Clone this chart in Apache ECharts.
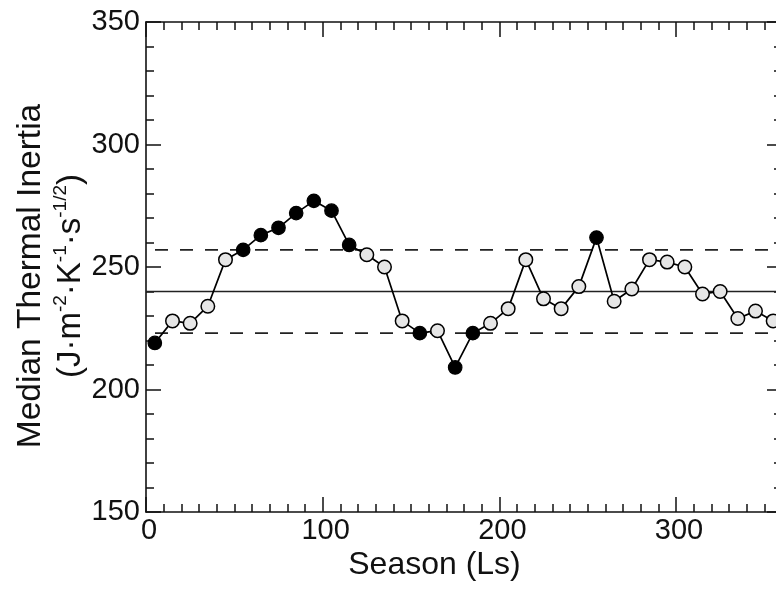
<!DOCTYPE html>
<html>
<head>
<meta charset="utf-8">
<script src="https://cdn.jsdelivr.net/npm/echarts@6/dist/echarts.min.js"></script>
<style>
  html, body { margin: 0; padding: 0; background: #fff; }
  #chart { width: 776px; height: 589px; }
</style>
</head>
<body>
<div id="chart"></div>
<script>
// Season (solar longitude Ls, degrees) of each bin
const seasonLs = [5, 15, 25, 35, 45, 55, 65, 75, 85, 95, 105, 115, 125, 135, 145, 155, 165, 175,
                  185, 195, 205, 215, 225, 235, 245, 255, 265, 275, 285, 295, 305, 315, 325, 335, 345, 355];
// Median thermal inertia per bin (J m^-2 K^-1 s^-1/2)
const medianTI = [219, 228, 227, 234, 253, 257, 263, 266, 272, 277, 273, 259, 255, 250, 228, 223, 224, 209,
                  223, 227, 233, 253, 237, 233, 242, 262, 236, 241, 253, 252, 250, 239, 240, 229, 232, 228];
// 1 = bin lies outside the variability band (filled marker)
const outsideBand = [1, 0, 0, 0, 0, 1, 1, 1, 1, 1, 1, 1, 0, 0, 0, 1, 0, 1,
                     1, 0, 0, 0, 0, 0, 0, 1, 0, 0, 0, 0, 0, 0, 0, 0, 0, 0];
// Annual median and band limits
const annualMedian = 240;
const bandUpper = 257;
const bandLower = 223;
// Axis ranges
const xRange = [0, 360];
const yRange = [150, 350];
const xLabels = [0, 100, 200, 300];

const FONT = '"Liberation Sans", Arial, Helvetica, sans-serif';
const INK = '#111';

const chart = echarts.init(document.getElementById('chart'), null, { renderer: 'canvas' });

const points = seasonLs.map((ls, i) => ({
  value: [ls, medianTI[i]],
  itemStyle: outsideBand[i]
    ? { color: '#000', borderColor: '#000', borderWidth: 1.2 }
    : { color: '#e6e6e6', borderColor: '#000', borderWidth: 1.5 }
}));

function hLine(y, dashed) {
  return {
    type: 'line',
    data: [[xRange[0], y], [xRange[1], y]],
    symbol: 'none',
    silent: true,
    z: 1,
    lineStyle: dashed
      ? { color: '#222', width: 1.8, type: [13, 12], dashOffset: 16 }
      : { color: '#222', width: 1.7 }
  };
}

function xAx(pos, interval, tickLen, withLabels, showLine) {
  return {
    type: 'value', position: pos, min: xRange[0], max: xRange[1], interval: interval,
    axisLine: { show: showLine, onZero: false, lineStyle: { color: INK, width: 1.6 } },
    axisTick: { show: true, inside: true, length: tickLen, lineStyle: { color: INK, width: 1.5 } },
    axisLabel: withLabels ? {
      show: true, margin: 4, fontFamily: FONT, fontSize: 29, color: INK,
      padding: [0, 0, 0, 6],
      formatter: v => (xLabels.indexOf(v) >= 0 ? String(v) : '')
    } : { show: false },
    splitLine: { show: false }
  };
}

function yAx(pos, withLabels) {
  const ax = {
    type: 'value', position: pos, min: yRange[0], max: yRange[1], interval: 50,
    axisLine: { show: true, onZero: false, lineStyle: { color: INK, width: 1.6 } },
    axisTick: { show: true, inside: true, length: 15, lineStyle: { color: INK, width: 1.5 } },
    minorTick: { show: true, splitNumber: 5, length: 8, lineStyle: { color: INK, width: 1.5 } },
    axisLabel: withLabels ? { show: true, margin: 6, fontFamily: FONT, fontSize: 29, color: INK } : { show: false },
    splitLine: { show: false }
  };
  if (withLabels) {
    Object.assign(ax, {
      name: '{a|Median Thermal Inertia}\n{b|(J·m}{s|-2}{b|·K}{s|-1}{b|·s}{s|-1/2}{b|)}',
      nameLocation: 'middle',
      nameRotate: 90,
      nameGap: 55,
      nameMoveOverlap: false,
      nameTextStyle: {
        fontFamily: FONT, color: INK,
        padding: [0, 18, 0, 0],
        rich: {
          a: { fontFamily: FONT, fontSize: 33.5, lineHeight: 40, color: INK },
          b: { fontFamily: FONT, fontSize: 33, lineHeight: 40, color: INK },
          s: { fontFamily: FONT, fontSize: 19, lineHeight: 36, color: INK, verticalAlign: 'top' }
        }
      }
    });
  }
  return ax;
}

const bottomMajor = xAx('bottom', 100, 15, true, true);
Object.assign(bottomMajor, {
  name: 'Season (Ls)',
  nameLocation: 'middle',
  nameGap: 37,
  nameMoveOverlap: false,
  nameTextStyle: { fontFamily: FONT, fontSize: 32, color: INK, padding: [0, 59, 0, 0] }
});

chart.setOption({
  animation: false,
  backgroundColor: '#fff',
  grid: { left: 146, top: 22, right: -6, bottom: 77, containLabel: false, outerBoundsMode: 'none' },
  xAxis: [
    bottomMajor,
    xAx('bottom', 10, 8, false, false),
    xAx('top', 100, 15, false, true),
    xAx('top', 10, 8, false, false)
  ],
  yAxis: [yAx('left', true), yAx('right', false)],
  series: [
    hLine(annualMedian, false),
    hLine(bandUpper, true),
    hLine(bandLower, true),
    {
      type: 'line',
      data: points,
      z: 5,
      symbol: 'circle',
      symbolSize: 13.5,
      showAllSymbol: true,
      lineStyle: { color: '#000', width: 1.7 },
      itemStyle: { color: '#e6e6e6', borderColor: '#000' },
      emphasis: { disabled: true }
    }
  ]
});
</script>
</body>
</html>
